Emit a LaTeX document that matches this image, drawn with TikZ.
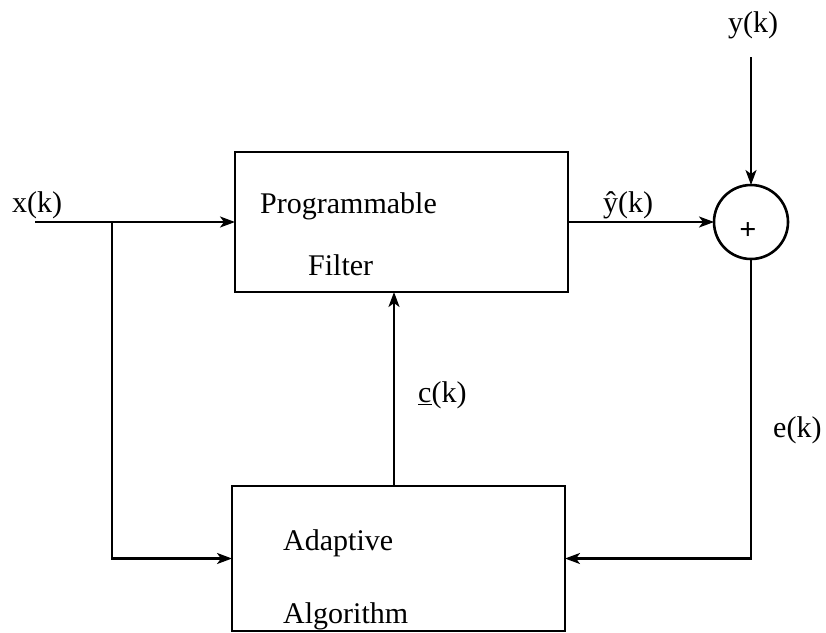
\documentclass[tikz,border=0pt]{standalone}
\usepackage{fontspec}
\setmainfont{Liberation Serif}
\usetikzlibrary{arrows.meta}
\begin{document}
\begin{tikzpicture}[x=1pt,y=-1pt,
  blk/.style={draw, line width=2.6pt, rectangle, minimum width=333pt, inner sep=0pt, outer sep=0pt},
  sumnode/.style={draw, circle, line width=2.6pt, minimum size=74pt, inner sep=0pt, outer sep=0pt},
  lbl/.style={inner sep=0pt, anchor=base west, font=\fontsize{30}{32}\selectfont},
  arr/.style={line width=2.2pt, -{Stealth[length=15pt,width=11pt,inset=4pt]}}]
\useasboundingbox (0,0) rectangle (826,632);
% blocks
\node[blk, minimum height=140pt] (pf) at (401.5,222) {};
\node[blk, minimum height=145pt] (aa) at (398.5,558.5) {};
\node[sumnode] (sum) at (751,222) {};
\node[inner sep=0pt, font=\fontsize{30}{32}\selectfont\bfseries] (plus) at (748,231) {+};
% texts in blocks
\node[lbl] (t1) at (260,213) {Programmable};
\node[lbl] (t2) at (308,275) {Filter};
\node[lbl] (t3) at (283,550) {Adaptive};
\node[lbl] (t4) at (283,623) {Algorithm};
% signal labels
\node[lbl] (lx) at (12,212) {x(k)};
\node[lbl] (ly) at (728,32) {y(k)};
\node[lbl] (lyh) at (603,212) {ŷ(k)};
\node[lbl] (lc) at (418,402) {\underline{c}(k)};
\node[lbl] (le) at (773,437) {e(k)};
% coordinates
\coordinate (xin) at (35,222);
\coordinate (br) at (112,222);
\coordinate (yin) at (751,57);
% connectors
\draw[arr] (xin) -- (pf.west);
\draw[arr] (br) |- (aa.west);
\draw[arr] (aa.north -| 394,0) -- (pf.south -| 394,0);
\draw[arr] (pf.east) -- (sum.west);
\draw[arr] (yin) -- (sum.north);
\draw[arr] (sum.south) |- (aa.east);
\end{tikzpicture}
\end{document}
